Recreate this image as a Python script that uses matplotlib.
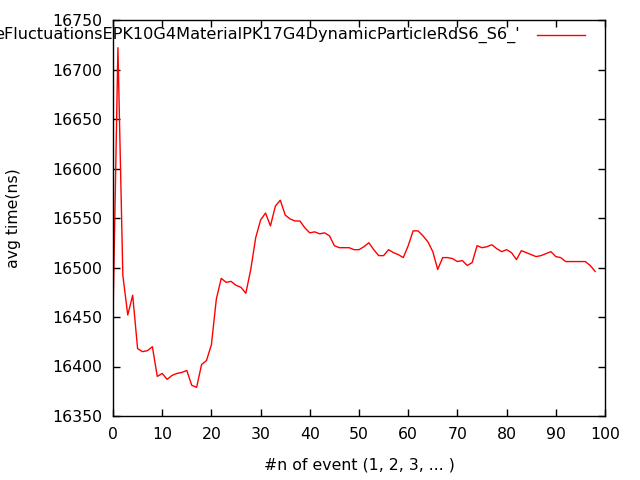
import matplotlib
matplotlib.use("Agg")
import matplotlib.pyplot as plt

# average time per event
events = list(range(0, 99))
avg_time = [
    16450, 16722, 16492, 16452, 16472, 16418, 16415, 16416, 16420, 16390,
    16393, 16387, 16391, 16393, 16394, 16396, 16381, 16379, 16402, 16406,
    16422, 16468, 16489, 16485, 16486, 16482, 16480, 16474, 16498, 16530,
    16548, 16555, 16542, 16562, 16568, 16553, 16549, 16547, 16547, 16540,
    16535, 16536, 16534, 16535, 16532, 16522, 16520, 16520, 16520, 16518,
    16518, 16521, 16525, 16518, 16512, 16512, 16518, 16515, 16513, 16510,
    16522, 16537, 16537, 16532, 16526, 16516, 16498, 16510, 16510, 16509,
    16506, 16507, 16502, 16505, 16522, 16520, 16521, 16523, 16519, 16516,
    16518, 16515, 16508, 16517, 16515, 16513, 16511, 16512, 16514, 16516,
    16511, 16510, 16506, 16506, 16506, 16506, 16506, 16502, 16496,
]
key_label = "eFluctuationsEPK10G4MaterialPK17G4DynamicParticleRdS6_S6_'"
x_ticks = list(range(0, 101, 10))
y_ticks = list(range(16350, 16751, 50))

fs = 11.3
fig = plt.figure(figsize=(6.4, 4.8), dpi=100)
ax = fig.add_axes([113 / 640, 1 - 416 / 480, 492 / 640, 396 / 480])

ax.plot(events, avg_time, color="#ff0000", lw=1.0)

ax.set_xlim(0, 100)
ax.set_ylim(16350, 16750)
ax.set_xticks(x_ticks)
ax.set_yticks(y_ticks)
ax.tick_params(direction="in", length=5, width=1, top=True, right=True,
               labelsize=fs, pad=8, colors="black")
for s in ax.spines.values():
    s.set_linewidth(1)
    s.set_color("black")

ax.set_xlabel("#n of event (1, 2, 3, ... )", fontsize=fs, labelpad=11)
ax.set_ylabel("avg time(ns)", fontsize=fs, labelpad=22)

# gnuplot-style key in the top right (left end runs off the figure, as in the original)
fig.text(520 / 640, 1 - 35 / 480, key_label, ha="right", va="center", fontsize=11.6)
fig.add_artist(plt.Line2D([537 / 640, 585 / 640], [1 - 35 / 480, 1 - 35 / 480],
                          color="#ff0000", lw=1.0))

fig.savefig("out.png", dpi=100)
